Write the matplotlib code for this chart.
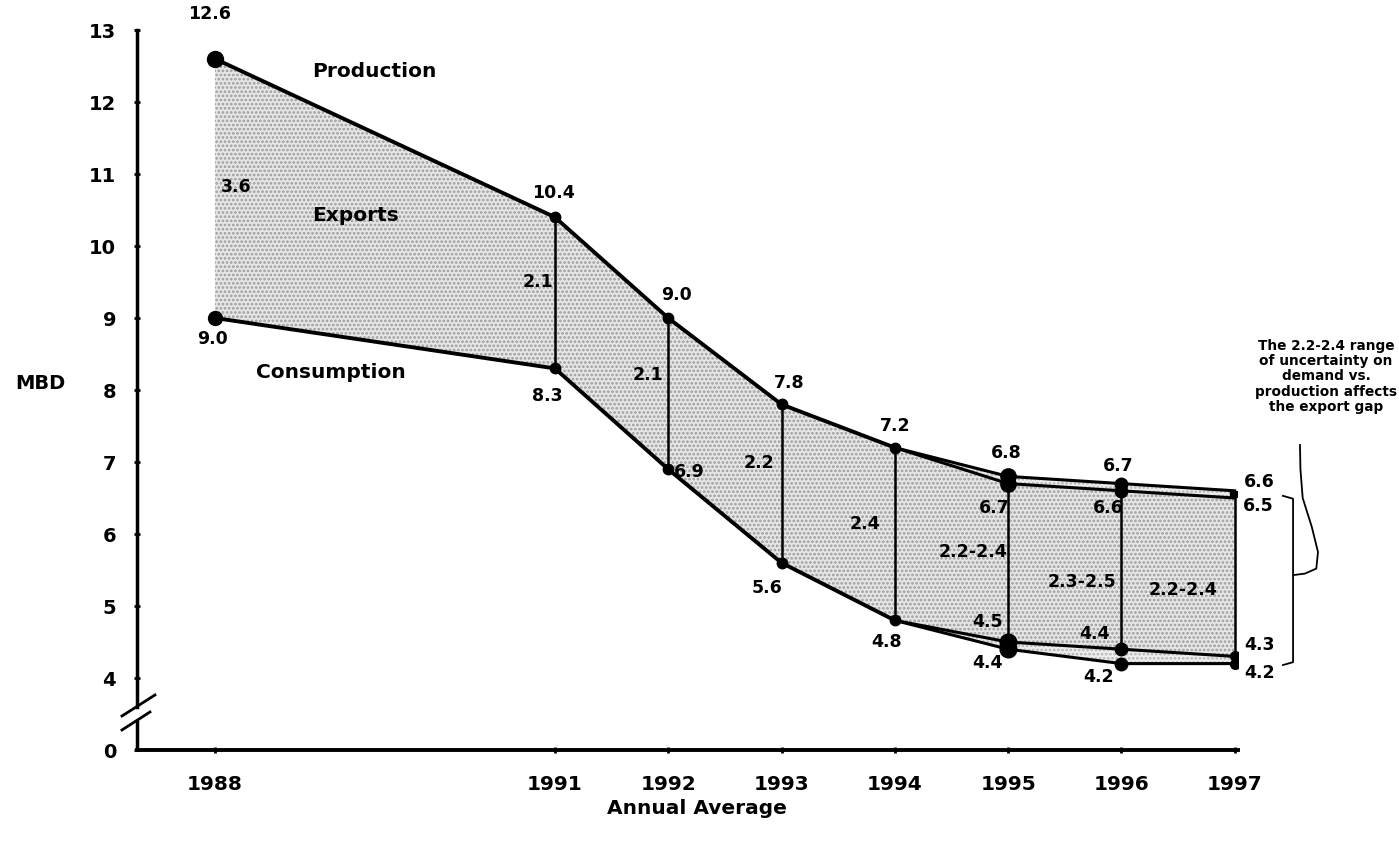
import matplotlib
matplotlib.use("Agg")
import matplotlib.pyplot as plt
import numpy as np

plt.rcParams['font.family'] = ['DejaVu Sans']
plt.rcParams['font.weight'] = 'bold'
plt.rcParams['hatch.linewidth'] = 1.3

# ---- data ----
years_main = [1988, 1991, 1992, 1993, 1994]
production_main = [12.6, 10.4, 9.0, 7.8, 7.2]
consumption_main = [9.0, 8.3, 6.9, 5.6, 4.8]

years_range = [1994, 1995, 1996, 1997]
production_high = [7.2, 6.8, 6.7, 6.6]
production_low = [7.2, 6.7, 6.6, 6.5]
consumption_high = [4.8, 4.5, 4.4, 4.3]
consumption_low = [4.8, 4.4, 4.2, 4.2]

gap_labels = ['3.6', '2.1', '2.1', '2.2', '2.4', '2.2-2.4', '2.3-2.5', '2.2-2.4']
year_ticks = [1988, 1991, 1992, 1993, 1994, 1995, 1996, 1997]
y_tick_values = [0, 4, 5, 6, 7, 8, 9, 10, 11, 12, 13]


def ymap(v):
    # broken axis: values from 4 upward are linear; 0 sits one unit below 4
    return 3.0 if v == 0 else v


fig = plt.figure(figsize=(13.99, 8.51), dpi=100)
ax = fig.add_axes([137 / 1399, 101 / 851, 1101 / 1399, 720 / 851])
ax.set_xlim(1987.3116, 1997.029)
ax.set_ylim(3, 13)

# combined full series for shading
yrs_all = years_main + years_range[1:]
prod_low_all = production_main + production_low[1:]
cons_high_all = consumption_main + consumption_high[1:]

ax.fill_between(yrs_all, cons_high_all, prod_low_all, facecolor='#e6e6e6',
                edgecolor='#9c9c9c', hatch='....', linewidth=0, zorder=1)
ax.fill_between(years_range, production_low, production_high, facecolor='#eeeeee',
                edgecolor='#b5b5b5', hatch='....', linewidth=0, zorder=1)
ax.fill_between(years_range, consumption_low, consumption_high, facecolor='#eeeeee',
                edgecolor='#b5b5b5', hatch='....', linewidth=0, zorder=1)

# vertical export-gap lines
for i, yr in enumerate(yrs_all):
    if yr == 1988:
        continue
    ax.plot([yr, yr], [cons_high_all[i], prod_low_all[i]], color='black', lw=1.8, zorder=3)

lw = 2.8
ax.plot(years_main, production_main, color='black', lw=lw, zorder=4, solid_capstyle='round')
ax.plot(years_main, consumption_main, color='black', lw=lw, zorder=4, solid_capstyle='round')
for s in (production_high, production_low, consumption_high, consumption_low):
    ax.plot(years_range, s, color='black', lw=2.2, zorder=4)

# markers
ax.plot(years_main[:1], production_main[:1], 'o', color='black', ms=11.5, zorder=5)
ax.plot(years_main[:1], consumption_main[:1], 'o', color='black', ms=10, zorder=5)
ax.plot(years_main[1:], production_main[1:], 'o', color='black', ms=7.5, zorder=5)
ax.plot(years_main[1:], consumption_main[1:], 'o', color='black', ms=7.5, zorder=5)
ax.plot([1995, 1995], [production_high[1], production_low[1]], 'o', color='black', ms=11, zorder=5)
ax.plot([1995, 1995], [consumption_high[1], consumption_low[1]], 'o', color='black', ms=12, zorder=5)
ax.plot([1996, 1996], [production_high[2], production_low[2]], 'o', color='black', ms=9, zorder=5)
ax.plot([1996, 1996], [consumption_high[2], consumption_low[2]], 'o', color='black', ms=9, zorder=5)
ax.plot([1997, 1997], [production_high[3], production_low[3]], color='black', lw=7.5, zorder=5,
        solid_capstyle='butt')
ax.plot([1997, 1997], [consumption_high[3], consumption_low[3]], 'o', color='black', ms=7, zorder=5)

# value labels (offsets in pixels)
fs = 12.5


def lab(txt, x, y, dx, dy, ha='center', size=fs):
    ax.annotate(txt, (x, y), xytext=(dx, dy), textcoords='offset pixels',
                ha=ha, va='center', fontsize=size, fontweight='bold', zorder=6)


prod_offsets = [(-5, 45), (-1, 24), (8, 23), (8, 21), (0, 22)]
cons_offsets = [(-2, -21), (-8, -28), (21, -3), (-15, -25), (-8, -22)]
for i, yr in enumerate(years_main):
    lab(f"{production_main[i]:.1f}", yr, production_main[i], *prod_offsets[i])
    lab(f"{consumption_main[i]:.1f}", yr, consumption_main[i], *cons_offsets[i])

ph_off = [(-2, 23), (-3, 18), (25, 9)]
pl_off = [(-14, -24), (-13, -17), (24, -8)]
ch_off = [(-21, 20), (-27, 15), (25, 11)]
cl_off = [(-21, -14), (-23, -13), (25, -9)]
for j in range(1, 4):
    yr = years_range[j]
    lab(f"{production_high[j]:.1f}", yr, production_high[j], *ph_off[j - 1])
    lab(f"{production_low[j]:.1f}", yr, production_low[j], *pl_off[j - 1])
    lab(f"{consumption_high[j]:.1f}", yr, consumption_high[j], *ch_off[j - 1])
    lab(f"{consumption_low[j]:.1f}", yr, consumption_low[j], *cl_off[j - 1])

gap_pos = [(1988.185, 10.82), (1990.85, 9.5), (1991.82, 8.21), (1992.80, 6.99),
           (1993.74, 6.14), (1994.69, 5.75), (1995.65, 5.33), (1996.54, 5.22)]
for t, (gx, gy) in zip(gap_labels, gap_pos):
    ax.text(gx, gy, t, ha='center', va='center', fontsize=fs, fontweight='bold', zorder=6)

ax.text(1989.41, 12.43, 'Production', ha='center', va='center', fontsize=14.5, fontweight='bold')
ax.text(1989.24, 10.42, 'Exports', ha='center', va='center', fontsize=14.5, fontweight='bold')
ax.text(1989.02, 8.25, 'Consumption', ha='center', va='center', fontsize=14.5, fontweight='bold')

# annotation with bracket
ax.text(1997.806, 8.19, 'The 2.2-2.4 range\nof uncertainty on\ndemand vs.\nproduction affects\nthe export gap',
        ha='center', va='center', fontsize=9.8, fontweight='bold', linespacing=1.12, clip_on=False)
ax.plot([1997.426, 1997.515, 1997.515, 1997.426],
        [6.53, 6.49, 4.22, 4.18], color='black', lw=1.3, clip_on=False)
bx = [1997.576, 1997.580, 1997.600, 1997.680, 1997.735, 1997.72, 1997.62, 1997.52]
by = [7.236, 6.9, 6.5, 6.1, 5.75, 5.52, 5.45, 5.43]
ax.plot(bx, by, color='black', lw=1.3, clip_on=False)

# axes styling
for sp in ('top', 'right'):
    ax.spines[sp].set_visible(False)
ax.spines['left'].set_bounds(3.60, 13)
ax.spines['left'].set_linewidth(2.5)
ax.spines['bottom'].set_linewidth(2.8)
ax.plot([1987.3116, 1987.3116], [3.0, 3.42], color='black', lw=2.5, clip_on=False,
        solid_capstyle='butt')
ax.plot([1987.179, 1987.470], [3.472, 3.764], color='black', lw=2.0, clip_on=False)
ax.plot([1987.179, 1987.426], [3.278, 3.528], color='black', lw=2.0, clip_on=False)

ax.set_yticks([ymap(v) for v in y_tick_values])
ax.set_yticklabels([str(v) for v in y_tick_values])
ax.set_xticks(year_ticks)
ax.set_xticklabels([str(y) for y in year_ticks])
ax.tick_params(axis='y', direction='inout', length=4, width=2, pad=13, labelsize=14)
ax.tick_params(axis='x', direction='inout', length=4, width=2, pad=16, labelsize=14.5)
for lbl in ax.get_xticklabels() + ax.get_yticklabels():
    lbl.set_fontweight('bold')

fig.text(40 / 1399, 1 - 384 / 851, 'MBD', ha='center', va='center', fontsize=14, fontweight='bold')
fig.text(697 / 1399, 1 - 808 / 851, 'Annual Average', ha='center', va='center', fontsize=14.5,
         fontweight='bold')

fig.savefig('out.png', dpi=100, facecolor='white')
